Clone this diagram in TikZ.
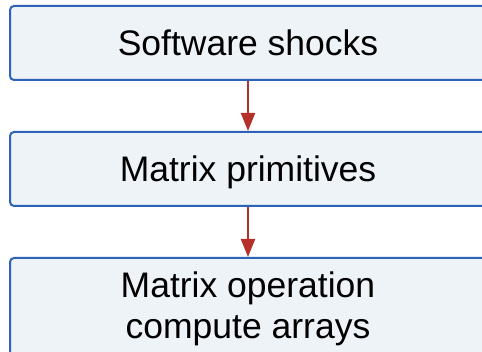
\documentclass[tikz,border=0pt]{standalone}
\usepackage{fontspec}
\setmainfont{Liberation Sans}
\usepackage{xcolor}
\usepackage{tikz}
\usetikzlibrary{arrows.meta,positioning}

\definecolor{boxfill}{HTML}{EEF3F8}
\definecolor{boxline}{HTML}{2C63B8}
\definecolor{flowred}{HTML}{B5302A}

\begin{document}
\begin{tikzpicture}[
    x=1pt, y=1pt, node distance=50pt,
    stage/.style={rectangle, draw=boxline, line width=2pt, fill=boxfill, rounded corners=4pt, minimum width=476pt, minimum height=74pt, text height=25pt, text depth=0pt, align=center, font=\fontsize{35.5}{41}\selectfont},
    flow/.style={draw=flowred, line width=2pt, -{Triangle[width=14pt,length=18pt]}}
]
    \useasboundingbox (0,0) rectangle (482,-352);

    % Stages
    \node[stage] (shocks) at (248,-43) {Software shocks};
    \node[stage, below=of shocks] (prims) {Matrix primitives};
    \node[stage, below=of prims, text height=, text depth=, inner ysep=14pt] (ops) {Matrix operation\\compute arrays};

    % Flow
    \draw[flow] (shocks) -- (prims);
    \draw[flow] (prims) -- (ops);
\end{tikzpicture}
\end{document}
